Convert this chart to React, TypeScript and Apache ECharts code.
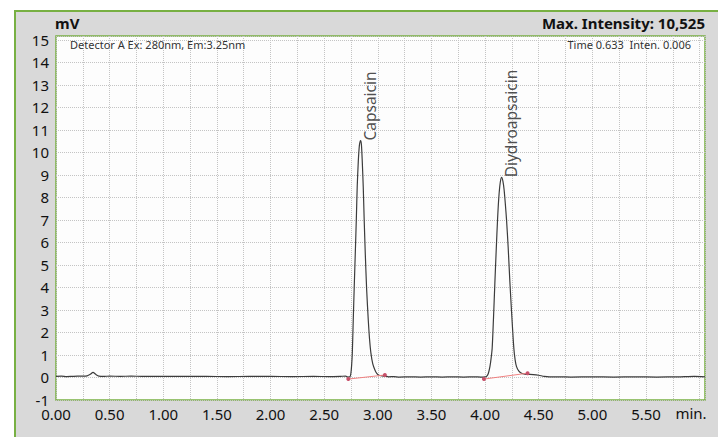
import React, { useEffect, useRef } from "react";
import * as echarts from "echarts";

// Fluorescence chromatogram: time (min) vs detector signal (mV)
const chromatogram: [number, number][] = [
  [0.0, 0.05], [0.05, 0.06], [0.1, 0.04], [0.15, 0.05], [0.2, 0.06], [0.25, 0.06],
  [0.29, 0.07], [0.32, 0.14], [0.345, 0.23], [0.37, 0.14], [0.4, 0.06], [0.45, 0.05],
  [0.5, 0.06], [0.6, 0.05], [0.7, 0.06], [0.8, 0.05], [0.9, 0.05], [1.0, 0.05],
  [1.2, 0.05], [1.4, 0.05], [1.6, 0.04], [1.8, 0.05], [2.0, 0.05], [2.2, 0.04],
  [2.4, 0.05], [2.55, 0.04], [2.65, 0.05], [2.7, 0.06], [2.72, 0.02], [2.74, 0.03],
  [2.749, 0.19], [2.756, 0.55], [2.762, 1.07], [2.771, 2.55], [2.78, 4.0], [2.79, 5.52],
  [2.8, 7.1], [2.808, 8.48], [2.818, 9.6], [2.828, 10.3], [2.839, 10.525], [2.847, 10.35],
  [2.855, 9.6], [2.864, 8.48], [2.873, 7.0], [2.883, 5.52], [2.896, 3.9], [2.911, 2.55],
  [2.923, 1.7], [2.936, 1.07], [2.953, 0.6], [2.973, 0.33], [2.99, 0.18], [3.01, 0.1],
  [3.04, 0.07], [3.07, 0.06], [3.1, 0.03], [3.15, 0.04], [3.2, 0.02], [3.3, 0.03],
  [3.4, 0.02], [3.5, 0.03], [3.6, 0.02], [3.7, 0.03], [3.8, 0.02], [3.9, 0.03],
  [3.96, 0.02], [4.0, 0.03], [4.014, 0.05], [4.03, 0.18], [4.045, 0.48], [4.056, 0.85],
  [4.066, 1.3], [4.078, 2.6], [4.091, 4.18], [4.104, 5.7], [4.116, 7.0], [4.128, 8.0],
  [4.141, 8.65], [4.154, 8.89], [4.166, 8.72], [4.177, 8.35], [4.188, 7.75], [4.2, 7.0],
  [4.215, 5.8], [4.231, 4.25], [4.25, 2.65], [4.268, 1.3], [4.28, 0.78], [4.293, 0.48],
  [4.315, 0.28], [4.34, 0.19], [4.37, 0.15], [4.4, 0.14], [4.45, 0.13], [4.5, 0.1],
  [4.55, 0.05], [4.6, 0.03], [4.7, 0.03], [4.8, 0.02], [5.0, 0.03], [5.2, 0.02],
  [5.4, 0.03], [5.6, 0.02], [5.8, 0.03], [5.95, 0.05], [6.05, 0.03],
];

// Integration baselines drawn under each peak
const capsaicinBaseline: [number, number][] = [[2.725, -0.07], [3.066, 0.11]];
const dihydroBaseline: [number, number][] = [[3.989, -0.07], [4.396, 0.19]];

// Peak apexes with their names
const peakNames = ["Capsaicin", "Diydroapsaicin"];
const peakTimes = [2.839, 4.154];
const peakHeights = [10.525, 8.89];

const xMin = 0;
const xMax = 6.05;
const xStep = 0.5;
const yMin = -1;
const yMax = 15.17;
const yStep = 1;

const FONT = "'Noto Sans', 'Open Sans', sans-serif";
const GREEN = "#78b043";

export default function App() {
  const ref = useRef<HTMLDivElement>(null);

  useEffect(() => {
    document.body.style.margin = "0";
    if (!ref.current) return;
    const chart = echarts.init(ref.current, undefined, { renderer: "svg" });

    const gridLine = { show: true, lineStyle: { color: "#c4c4c4", type: "dotted" as const, width: 1 } };

    chart.setOption({
      animation: false,
      grid: {
        left: 56,
        right: 13,
        top: 36,
        bottom: 37,
        show: true,
        backgroundColor: "#fdfdfd",
        borderColor: GREEN,
        borderWidth: 1.5,
      },
      xAxis: {
        type: "value",
        min: xMin,
        max: xMax,
        interval: xStep,
        axisLine: { show: false },
        axisTick: { show: false },
        minorTick: { show: false, splitNumber: 2 },
        minorSplitLine: gridLine,
        splitLine: gridLine,
        axisLabel: {
          margin: 7.5,
          color: "#111",
          fontFamily: FONT,
          fontSize: 15,
          lineHeight: 13,
          formatter: (v: number) => (v > 5.9 ? "" : v.toFixed(2)),
        },
      },
      yAxis: {
        type: "value",
        min: yMin,
        max: yMax,
        interval: yStep,
        axisLine: { show: false },
        axisTick: { show: false },
        splitLine: gridLine,
        axisLabel: {
          margin: 7,
          color: "#111",
          fontFamily: FONT,
          fontSize: 15,
          lineHeight: 13,
          padding: [0, 0, 3, 0],
          formatter: (v: number) => (Number.isInteger(v) ? String(v) : ""),
        },
      },
      series: [
        {
          type: "line",
          data: chromatogram,
          showSymbol: false,
          smooth: 0.25,
          lineStyle: { color: "#3c3c3c", width: 1.2 },
          z: 3,
        },
        ...[capsaicinBaseline, dihydroBaseline].map((d) => ({
          type: "line",
          data: d,
          symbol: "circle",
          symbolSize: 4,
          itemStyle: { color: "#c8506a" },
          lineStyle: { color: "#f08080", width: 1 },
          z: 4,
        })),
        {
          type: "scatter",
          data: peakTimes.map((t, i) => ({ value: [t, peakHeights[i]], name: peakNames[i] })),
          symbolSize: 2,
          itemStyle: { color: "rgba(0,0,0,0)" },
          label: {
            show: true,
            position: "right",
            distance: 8,
            rotate: 90,
            formatter: (p: any) => p.name,
            color: "#222",
            fontFamily: FONT,
            fontSize: 15.5,
          },
          z: 5,
        },
      ],
      graphic: [
        {
          type: "text",
          x: 55,
          y: 23,
          style: { text: "mV", align: "left", verticalAlign: "middle", fill: "#111", font: `bold 15px ${FONT}` },
        },
        {
          type: "text",
          x: 705,
          y: 23,
          style: {
            text: "Max. Intensity: 10,525",
            align: "right",
            verticalAlign: "middle",
            fill: "#111",
            font: `bold 15px ${FONT}`,
          },
        },
        {
          type: "text",
          x: 70,
          y: 44.5,
          z: 10,
          style: {
            text: "Detector A Ex: 280nm, Em:3.25nm",
            align: "left",
            verticalAlign: "middle",
            fill: "#333",
            font: `11px ${FONT}`,
          },
        },
        {
          type: "text",
          x: 691,
          y: 44.5,
          z: 10,
          style: {
            text: "Time 0.633  Inten. 0.006",
            align: "right",
            verticalAlign: "middle",
            fill: "#333",
            font: `11px ${FONT}`,
          },
        },
        {
          type: "text",
          x: 691,
          y: 413,
          style: { text: "min.", align: "center", verticalAlign: "middle", fill: "#111", font: `15px ${FONT}` },
        },
      ],
    });

    return () => chart.dispose();
  }, []);

  return (
    <div style={{ position: "absolute", left: 0, top: 0, width: 718, height: 437, background: "#fff", overflow: "hidden" }}>
      <div
        style={{
          position: "absolute",
          left: 14,
          top: 10,
          width: 720,
          height: 440,
          background: "#d9d9d9",
          borderTop: `2px solid ${GREEN}`,
          borderLeft: `2px solid ${GREEN}`,
        }}
      />
      <div ref={ref} style={{ position: "absolute", left: 0, top: 0, width: 718, height: 437 }} />
    </div>
  );
}
